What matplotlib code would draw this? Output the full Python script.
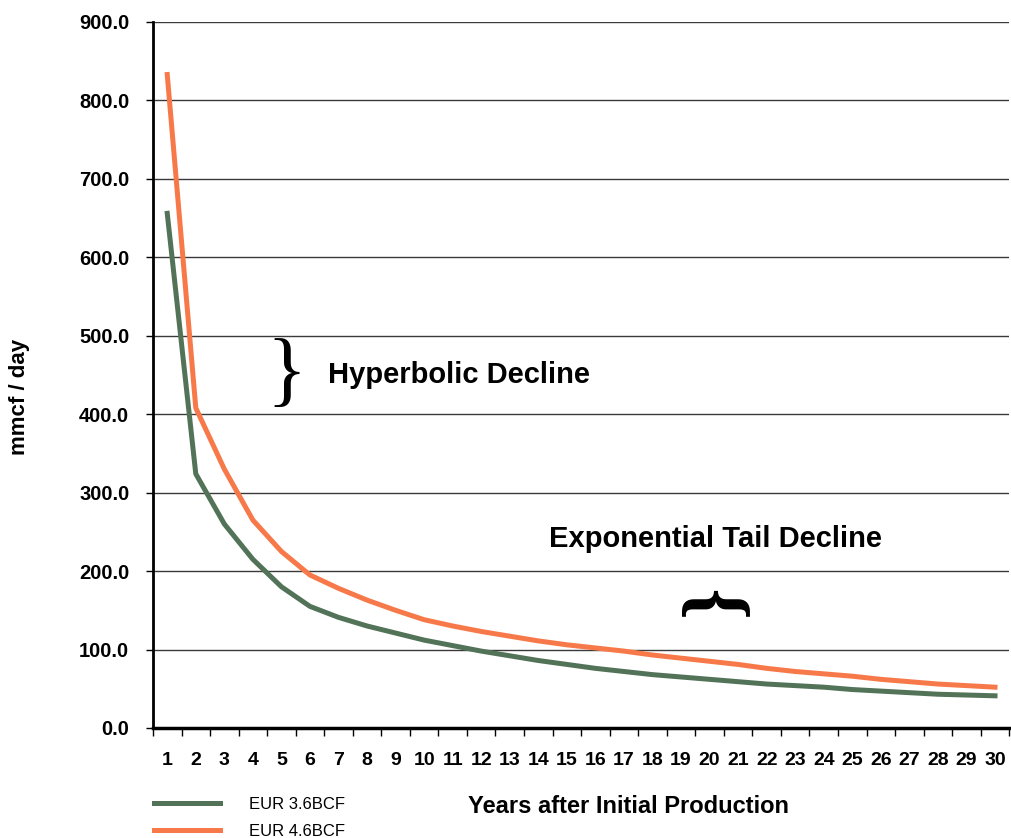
import matplotlib.pyplot as plt
from matplotlib.ticker import FormatStrFormatter

# Data (mmcf / day by year)
years = list(range(1, 31))
eur_36 = [656, 324, 260, 215, 180, 155, 141, 130, 121, 112,
          105, 98, 92, 86, 81, 76, 72, 68, 65, 62,
          59, 56, 54, 52, 49, 47, 45, 43, 42, 41]
eur_46 = [833, 408, 330, 265, 225, 195, 178, 163, 150, 138,
          130, 123, 117, 111, 106, 102, 98, 93, 89, 85,
          81, 76, 72, 69, 66, 62, 59, 56, 54, 52]
labels = ["EUR 3.6BCF", "EUR 4.6BCF"]
colors = ["#527358", "#F7794A"]

plt.rcParams['font.family'] = ['Liberation Sans', 'DejaVu Sans']

fig = plt.figure(figsize=(10.11, 8.38), dpi=100)
ax = fig.add_axes([0.1513, 0.1313, 0.847, 0.8425])

l1, = ax.plot(years, eur_36, color=colors[0], lw=3.6, solid_joinstyle='round')
l2, = ax.plot(years, eur_46, color=colors[1], lw=3.6, solid_joinstyle='round')

ax.set_xlim(0.5, 30.5)
ax.set_ylim(0, 900)

# y axis
ax.set_yticks(range(0, 1000, 100))
ax.yaxis.set_major_formatter(FormatStrFormatter('%.1f'))
ax.yaxis.grid(True, color='#3a3a3a', lw=1)
ax.set_axisbelow(True)
ax.tick_params(axis='y', direction='out', length=5, width=1, pad=12, labelsize=14.5)
for lab in ax.get_yticklabels():
    lab.set_fontweight('bold')

# x axis: tick marks between categories, labels at centres
ax.set_xticks([y + 0.5 for y in range(0, 31)])
ax.set_xticklabels([])
ax.set_xticks(years, minor=True)
ax.set_xticklabels([str(y) for y in years], minor=True, fontsize=14, fontweight='bold')
ax.tick_params(axis='x', which='major', direction='out', length=6, width=1)
ax.tick_params(axis='x', which='minor', length=0, pad=17)

for s in ['top', 'right']:
    ax.spines[s].set_visible(False)
ax.spines['left'].set_linewidth(2)
ax.spines['bottom'].set_linewidth(2.5)

# annotations
ax.text(5.19, 448, "}", family='Liberation Serif', fontsize=60,
        ha='center', va='center')
ax.text(6.63, 450, "Hyperbolic Decline", fontsize=21, fontweight='bold', va='center')
ax.text(14.37, 241, "Exponential Tail Decline", fontsize=21, fontweight='bold', va='center')
ax.text(20.22, 163, "}", family='Liberation Serif', fontsize=58, fontweight='bold',
        ha='center', va='center', rotation=90)

fig.text(20 / 1011, 1 - 397 / 838, "mmcf / day", rotation=90, fontsize=16,
         fontweight='bold', ha='center', va='center')
fig.text(628 / 1011, 1 - 806 / 838, "Years after Initial Production", fontsize=17,
         fontweight='bold', ha='center', va='center')

fig.legend([l1, l2], labels, loc='upper left', bbox_to_anchor=(147 / 1011, 1 - 790 / 838),
           frameon=False, fontsize=12, handlelength=4.0, handletextpad=1.7,
           labelspacing=0.75, borderaxespad=0)

fig.savefig("out.png", dpi=100)
